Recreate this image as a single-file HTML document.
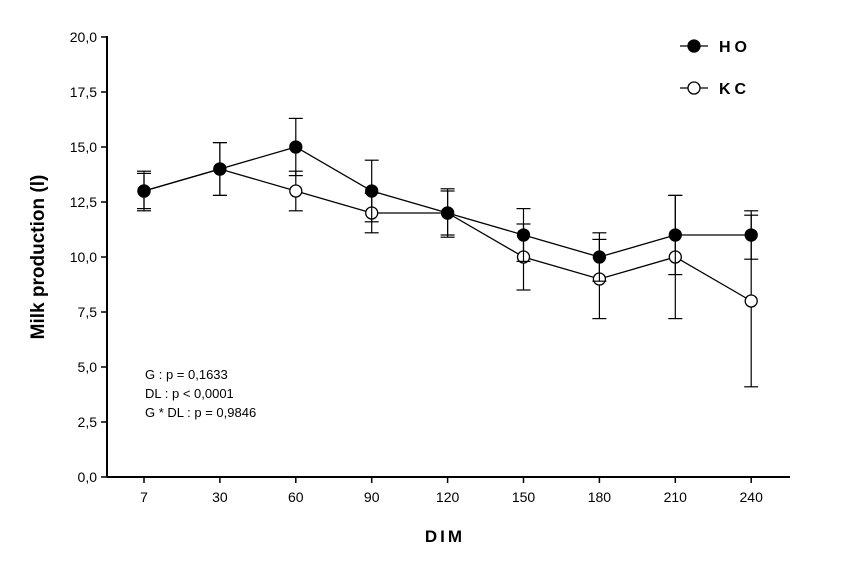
<!DOCTYPE html>
<html><head><meta charset="utf-8"><style>
body{margin:0;background:#fff;}
svg{display:block;font-family:"Liberation Sans",Arial,sans-serif;}
</style></head><body>
<svg id="chart" width="856" height="565"></svg>
<script>
const categories=["7","30","60","90","120","150","180","210","240"];
const hoValues=[13,14,15,13,12,11,10,11,11];
const hoErrors=[0.9,1.2,1.3,1.4,1.1,1.2,1.1,1.8,1.1];
const kcValues=[13,14,13,12,12,10,9,10,8];
const kcErrors=[0.8,1.2,0.9,0.9,1.0,1.5,1.8,2.8,3.9];
const yTicks=["0,0","2,5","5,0","7,5","10,0","12,5","15,0","17,5","20,0"];
const yTickValues=[0,2.5,5,7.5,10,12.5,15,17.5,20];

const NS="http://www.w3.org/2000/svg";
const svg=document.getElementById('chart');
function mk(t,a,p){const e=document.createElementNS(NS,t);for(const k in a)e.setAttribute(k,a[k]);(p||svg).appendChild(e);return e;}
const x0=107,x1=790,yTop=37,yBot=477;
function y(v){return yBot-(v/20)*(yBot-yTop);}
function x(i){return 144+i*75.9;}

let e;
e=mk('line',{x1:x0,y1:yTop-1,x2:x0,y2:yBot,stroke:'#000','stroke-width':2});


e=mk('line',{x1:x0,y1:yBot,x2:x1,y2:yBot,stroke:'#000','stroke-width':2});


yTickValues.forEach((v,i)=>{
  mk('line',{x1:x0-6,y1:y(v),x2:x0,y2:y(v),stroke:'#000','stroke-width':1.5});
  const t=mk('text',{x:x0-10,y:y(v)+5,'text-anchor':'end','font-size':14});
  t.textContent=yTicks[i];
  
  
});
categories.forEach((c,i)=>{
  mk('line',{x1:x(i),y1:yBot,x2:x(i),y2:yBot+6,stroke:'#000','stroke-width':1.5});
  const t=mk('text',{x:x(i),y:yBot+25,'text-anchor':'middle','font-size':14});
  t.textContent=c;
  
  
});
function series(vals,errs,fill,name){
  const g=mk('g',{});
  
  
  vals.forEach((v,i)=>{
    const cx=x(i);
    mk('line',{x1:cx,y1:y(v+errs[i]),x2:cx,y2:y(v-errs[i]),stroke:'#000','stroke-width':1.2},g);
    mk('line',{x1:cx-7,y1:y(v+errs[i]),x2:cx+7,y2:y(v+errs[i]),stroke:'#000','stroke-width':1.2},g);
    mk('line',{x1:cx-7,y1:y(v-errs[i]),x2:cx+7,y2:y(v-errs[i]),stroke:'#000','stroke-width':1.2},g);
  });
  mk('polyline',{points:vals.map((v,i)=>x(i)+','+y(v)).join(' '),fill:'none',stroke:'#000','stroke-width':1.3},g);
  vals.forEach((v,i)=>{
    const c=mk('circle',{cx:x(i),cy:y(v),r:6,fill:fill,stroke:'#000','stroke-width':1.3},g);
    
    
  });
}
series(kcValues,kcErrors,'#fff','kc');
series(hoValues,hoErrors,'#000','ho');

// legend
function leg(yy,fill,label,name){
  const g=mk('g',{});
  
  
  mk('line',{x1:680,y1:yy,x2:708,y2:yy,stroke:'#000','stroke-width':1.3},g);
  mk('circle',{cx:694,cy:yy,r:6,fill:fill,stroke:'#000','stroke-width':1.3},g);
  const t=mk('text',{x:719,y:yy+6,'font-size':16,'font-weight':'bold','letter-spacing':'4'},g);
  t.textContent=label;
}
leg(46,'#000','HO','ho');
leg(88,'#fff','KC','kc');

const stats=["G : p = 0,1633","DL : p < 0,0001","G * DL : p = 0,9846"];
stats.forEach((s,i)=>{
  const t=mk('text',{x:145,y:379+i*19,'font-size':13});
  t.textContent=s;
  
  
});
let t=mk('text',{x:445,y:542,'text-anchor':'middle','font-size':17,'font-weight':'bold','letter-spacing':'3'});
t.textContent='DIM';


t=mk('text',{x:0,y:0,'text-anchor':'middle','font-size':19,'font-weight':'bold',transform:'translate(44,257) rotate(-90)'});
t.textContent='Milk production (l)';


</script>
</body></html>
